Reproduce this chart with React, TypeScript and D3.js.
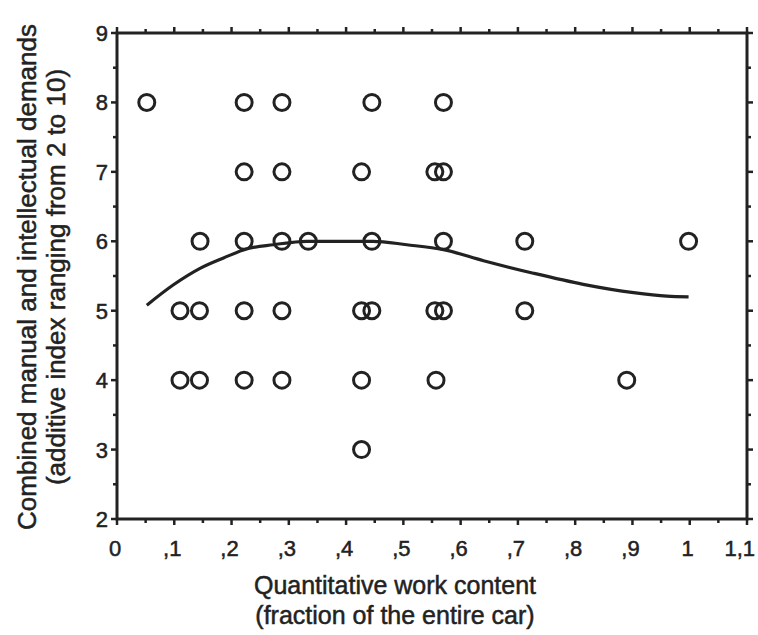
import React from "react";
import * as d3 from "d3";

// Scatter points (x = fraction of car, y = combined demands index)
const pointX = [
  0.052, 0.222, 0.288, 0.445, 0.570,
  0.222, 0.288, 0.427, 0.555, 0.570,
  0.145, 0.222, 0.288, 0.334, 0.445, 0.570, 0.712, 0.998,
  0.110, 0.144, 0.222, 0.288, 0.427, 0.445, 0.555, 0.570, 0.712,
  0.110, 0.144, 0.222, 0.288, 0.427, 0.557, 0.890,
  0.427,
];
const pointY = [
  8, 8, 8, 8, 8,
  7, 7, 7, 7, 7,
  6, 6, 6, 6, 6, 6, 6, 6,
  5, 5, 5, 5, 5, 5, 5, 5, 5,
  4, 4, 4, 4, 4, 4, 4,
  3,
];

// Smooth fit curve
const curveX = [0.052, 0.098, 0.145, 0.186, 0.226, 0.273, 0.331, 0.447, 0.506, 0.570, 0.640, 0.727, 0.814, 0.902, 0.960, 0.998];
const curveY = [5.08, 5.37, 5.61, 5.76, 5.89, 5.95, 6.0, 6.0, 5.95, 5.88, 5.72, 5.54, 5.38, 5.26, 5.21, 5.2];

const xTickValues = [0, 0.1, 0.2, 0.3, 0.4, 0.5, 0.6, 0.7, 0.8, 0.9, 1.0, 1.1];
const xTickLabels = ["0", ",1", ",2", ",3", ",4", ",5", ",6", ",7", ",8", ",9", "1", "1,1"];
const yTickValues = [2, 3, 4, 5, 6, 7, 8, 9];
const yTickLabels = ["2", "3", "4", "5", "6", "7", "8", "9"];

const xTitle = ["Quantitative work content", "(fraction of the entire car)"];
const yTitle = ["Combined manual and intellectual demands", "(additive index ranging from 2 to 10)"];

const W = 758;
const H = 635;
const left = 117;
const right = 747;
const top = 33;
const bottom = 519;
const INK = "#222";
const FONT = "'Liberation Sans', Arial, Helvetica, sans-serif";

const textStyle = { stroke: INK, strokeWidth: 0.5 };

export default function App() {
  const x = d3.scaleLinear().domain([0, 1.1]).range([left, right]);
  const y = d3.scaleLinear().domain([2, 9]).range([bottom, top]);

  const minorX = d3.range(0, 22).map((i) => i * 0.05).filter((v) => Math.round(v * 100) % 10 !== 0);
  const minorY = d3.range(2, 9).map((v) => v + 0.5);

  const curvePts: [number, number][] = curveX.map((cx, i) => [x(cx), y(curveY[i])]);
  const linePath = d3.line().curve(d3.curveMonotoneX)(curvePts) || "";

  const lastIdx = xTickValues.length - 1;

  return (
    <svg width={W} height={H} style={{ position: "absolute", left: 0, top: 0, background: "#fff" }}>
      <rect x={0} y={0} width={W} height={H} fill="#fff" />
      {/* frame */}
      <rect x={left} y={top} width={right - left} height={bottom - top} fill="none" stroke={INK} strokeWidth={3} />

      {/* x ticks bottom and top */}
      {xTickValues.map((v, i) => (
        <g key={"xt" + i}>
          <line x1={x(v)} x2={x(v)} y1={bottom} y2={bottom + 6} stroke={INK} strokeWidth={2.5} />
          <line x1={x(v)} x2={x(v)} y1={top} y2={top - 6} stroke={INK} strokeWidth={2.5} />
          <text
            x={i === lastIdx ? 755 : x(v) - 2}
            y={556}
            textAnchor={i === lastIdx ? "end" : "middle"}
            fontFamily={FONT}
            fontSize={22}
            fill={INK}
            style={textStyle}
          >
            {xTickLabels[i]}
          </text>
        </g>
      ))}
      {minorX.map((v, i) => (
        <g key={"xm" + i}>
          <line x1={x(v)} x2={x(v)} y1={bottom} y2={bottom + 4} stroke={INK} strokeWidth={2.5} />
          <line x1={x(v)} x2={x(v)} y1={top} y2={top - 4} stroke={INK} strokeWidth={2.5} />
        </g>
      ))}

      {/* y ticks left and right */}
      {yTickValues.map((v, i) => (
        <g key={"yt" + i}>
          <line x1={left} x2={left - 6} y1={y(v)} y2={y(v)} stroke={INK} strokeWidth={2.5} />
          <line x1={right} x2={right + 6} y1={y(v)} y2={y(v)} stroke={INK} strokeWidth={2.5} />
          <text x={108} y={y(v) + 8} textAnchor="end" fontFamily={FONT} fontSize={22} fill={INK} style={textStyle}>
            {yTickLabels[i]}
          </text>
        </g>
      ))}
      {minorY.map((v, i) => (
        <g key={"ym" + i}>
          <line x1={left} x2={left - 4} y1={y(v)} y2={y(v)} stroke={INK} strokeWidth={2.5} />
          <line x1={right} x2={right + 4} y1={y(v)} y2={y(v)} stroke={INK} strokeWidth={2.5} />
        </g>
      ))}

      {/* fit curve */}
      <path d={linePath} fill="none" stroke={INK} strokeWidth={3.2} />

      {/* points */}
      {pointX.map((px, i) => (
        <circle key={"p" + i} cx={x(px)} cy={y(pointY[i])} r={8} fill="none" stroke={INK} strokeWidth={3} />
      ))}

      {/* x title */}
      <text x={395} y={594} textAnchor="middle" fontFamily={FONT} fontSize={25} fill={INK} style={textStyle}>
        {xTitle[0]}
      </text>
      <text x={395} y={624} textAnchor="middle" fontFamily={FONT} fontSize={25} fill={INK} style={textStyle}>
        {xTitle[1]}
      </text>

      {/* y title */}
      <text transform={`translate(36,277) rotate(-90)`} textAnchor="middle" fontFamily={FONT} fontSize={26} fill={INK} style={textStyle}>
        {yTitle[0]}
      </text>
      <text transform={`translate(65,277) rotate(-90)`} textAnchor="middle" fontFamily={FONT} fontSize={26} fill={INK} style={textStyle}>
        {yTitle[1]}
      </text>
    </svg>
  );
}
